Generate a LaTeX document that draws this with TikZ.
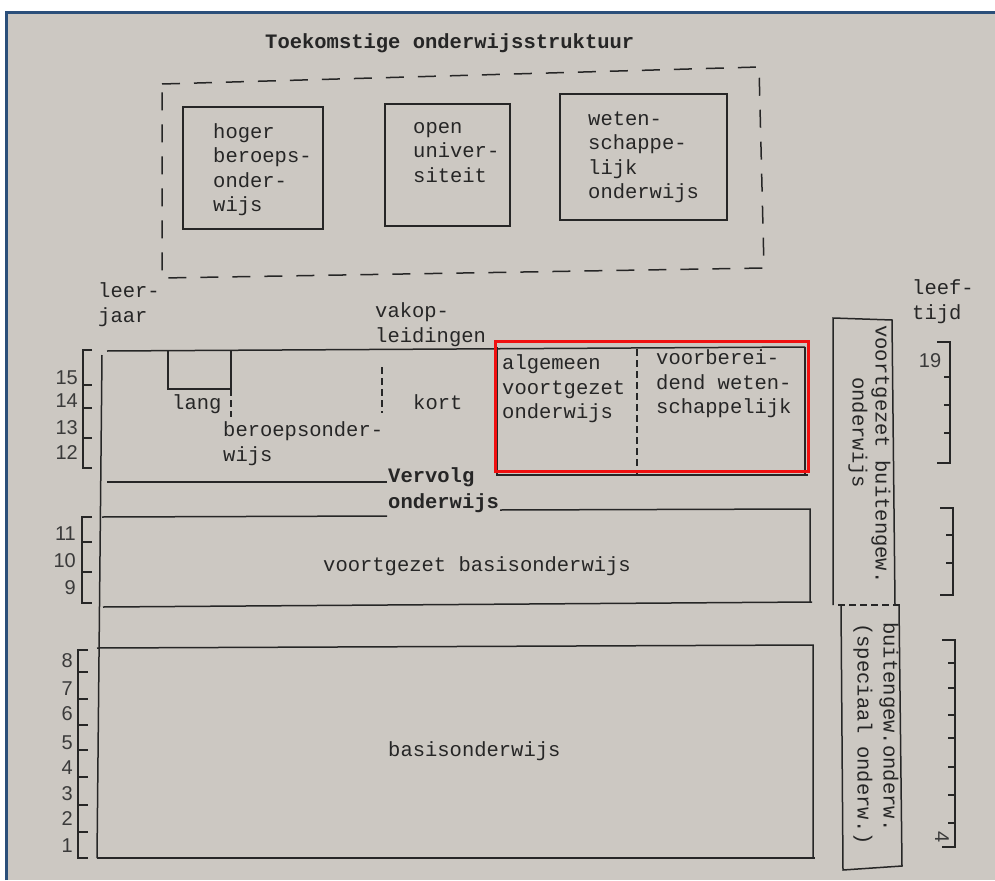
\documentclass[tikz,border=0pt]{standalone}
\usepackage{fontspec}
\newfontfamily\tw{Liberation Mono}
\newfontfamily\nums{Liberation Sans}
\definecolor{paper}{HTML}{CCC8C2}
\definecolor{ink}{HTML}{262626}
\definecolor{numc}{HTML}{3A3A3A}
\definecolor{framec}{HTML}{2B4F7A}
\definecolor{hilite}{HTML}{F01010}
\tikzset{
  ln/.style={draw=ink, line width=1.5pt},
  txt/.style={inner sep=0pt, text=ink, font=\tw\fontsize{20.5}{24.5}\selectfont},
  mtxt/.style={txt, align=left, anchor=north west},
  stxt/.style={txt, anchor=base west},
  btxt/.style={stxt, font=\tw\bfseries\fontsize{20.5}{24.5}\selectfont},
  vtxt/.style={stxt, rotate=-90},
  num/.style={inner sep=0pt, text=numc, font=\nums\fontsize{20}{22}\selectfont, anchor=base east},
  bigdash/.style={dash pattern=on 18pt off 14pt},
  smalldash/.style={dash pattern=on 7pt off 4pt},
}
\begin{document}
\begin{tikzpicture}[x=1pt,y=-1pt]
\useasboundingbox (0,0) rectangle (995,880);
\fill[white] (0,0) rectangle (995,880);
\fill[paper] (6,13) rectangle (995,880);
\draw[framec, line width=3pt] (6,880) -- (6,13) -- (995,13);

% title
\node[btxt] (title) at (265,49) {Toekomstige onderwijsstruktuur};

% future structure (dashed frame)
\draw[ln, bigdash] (162,84) -- (759,67) -- (764,268) -- (162,278) -- cycle;
\draw[ln] (183,107) rectangle (323,229);
\draw[ln] (385,104) rectangle (510,226);
\draw[ln] (560,94) rectangle (727,220);
\node[mtxt] (hbo) at (213,121) {\strut hoger\\beroeps-\\onder-\\wijs};
\node[mtxt] (ou) at (413,116) {\strut open\\univer-\\siteit};
\node[mtxt] (wo) at (588,108) {\strut weten-\\schappe-\\lijk\\onderwijs};

% axis captions
\node[mtxt] (leerjaar) at (98,280.5) {\strut leer-\\jaar};
\node[mtxt] (vakop) at (375,300.5) {\strut vakop-\\leidingen};
\node[mtxt] (leeftijd) at (912,277.5) {\strut leef-\\tijd};

% main left line
\draw[ln] (102,355) -- (97,858);

% upper block (vervolgonderwijs)
\draw[ln] (107,351) -- (805,347);
\draw[ln] (168,351) -- (168,389) -- (231,389);
\draw[ln] (231,351) -- (231,389);
\draw[ln, smalldash] (231,389) -- (231,417);
\draw[ln, smalldash] (382,367) -- (382,413);
\draw[ln] (107,482) -- (387,482);
\node[stxt] (lang) at (172,409) {lang};
\node[stxt] (kort) at (413,409) {kort};
\node[mtxt] (bo) at (223,419.5) {\strut beroepsonder-\\wijs};
\node[btxt] (vervolg) at (388,482) {Vervolg};
\node[btxt] (vervolg2) at (388,508) {onderwijs};

% avo / vwo
\draw[ln] (497,347) -- (497,475) -- (808,475);
\draw[ln] (805,347) -- (805,475);
\draw[ln, smalldash] (637,349) -- (637,475);
\node[mtxt] (avo) at (502,352.5) {\strut algemeen\\voortgezet\\onderwijs};
\node[mtxt] (vwo) at (656,347.5) {\strut voorberei-\\dend weten-\\schappelijk};
\draw[hilite, line width=3pt] (495,341) rectangle (808,471);

% voortgezet basisonderwijs
\draw[ln] (102,517) -- (387,516);
\draw[ln] (500,510) -- (810,509) -- (810,602);
\draw[ln] (103,607) -- (812,602);
\node[stxt] (vbo) at (323,571) {voortgezet basisonderwijs};

% basisonderwijs
\draw[ln] (97,648) -- (813,645) -- (813,858);
\draw[ln] (97,858) -- (815,858);
\node[stxt] (basis) at (388,756) {basisonderwijs};

% special education columns
\draw[ln] (833,605) -- (833,318) -- (892,320) -- (895,605);
\draw[ln, smalldash] (838,605) -- (900,605);
\draw[ln] (841,605) -- (843,870) -- (902,866) -- (899,605);
\node[vtxt] (vbuit1) at (875.7,325) {voortgezet buitengew.};
\node[vtxt] (vbuit2) at (852.7,377) {onderwijs};
\node[vtxt] (sbuit1) at (883.5,622) {buitengew.onderw.};
\node[vtxt] (sbuit2) at (857.7,623) {(speciaal onderw.)};

% left scale brackets
\draw[ln] (92,350) -- (83,350) -- (83,468) -- (92,468);
\foreach \t in {385,408,438} \draw[ln] (83,\t) -- (92,\t);
\draw[ln] (92,517) -- (82,517) -- (82,603) -- (92,603);
\foreach \t in {542,572} \draw[ln] (82,\t) -- (92,\t);
\draw[ln] (88,650) -- (78,650) -- (78,858) -- (88,858);
\foreach \t in {672,699,725,750,777,805,832} \draw[ln] (78,\t) -- (88,\t);

\node[num] (n15) at (78,384) {15};
\node[num] (n14) at (78,407) {14};
\node[num] (n13) at (78,434) {13};
\node[num] (n12) at (78,459) {12};
\node[num] (n11) at (76,540) {11};
\node[num] (n10) at (76,567) {10};
\node[num] (n9) at (76,594) {9};
\node[num] (n8) at (73,667) {8};
\node[num] (n7) at (73,695) {7};
\node[num] (n6) at (73,720) {6};
\node[num] (n5) at (73,749) {5};
\node[num] (n4) at (73,774) {4};
\node[num] (n3) at (73,800) {3};
\node[num] (n2) at (73,825) {2};
\node[num] (n1) at (73,852) {1};

% right scale brackets
\draw[ln] (937,342) -- (950,342) -- (950,463) -- (937,463);
\foreach \t in {377,405,433} \draw[ln] (944,\t) -- (950,\t);
\draw[ln] (940,508) -- (953,508) -- (953,595) -- (940,595);
\foreach \t in {535,563} \draw[ln] (946,\t) -- (953,\t);
\draw[ln] (942,640) -- (955,640) -- (955,847) -- (942,847);
\foreach \t in {663,688,715,738,767,795,823} \draw[ln] (948,\t) -- (955,\t);
\node[num, anchor=base] (a19) at (930,367) {19};
\node[num, anchor=center, rotate=-90] (a4) at (942,837) {4};
\end{tikzpicture}
\end{document}
